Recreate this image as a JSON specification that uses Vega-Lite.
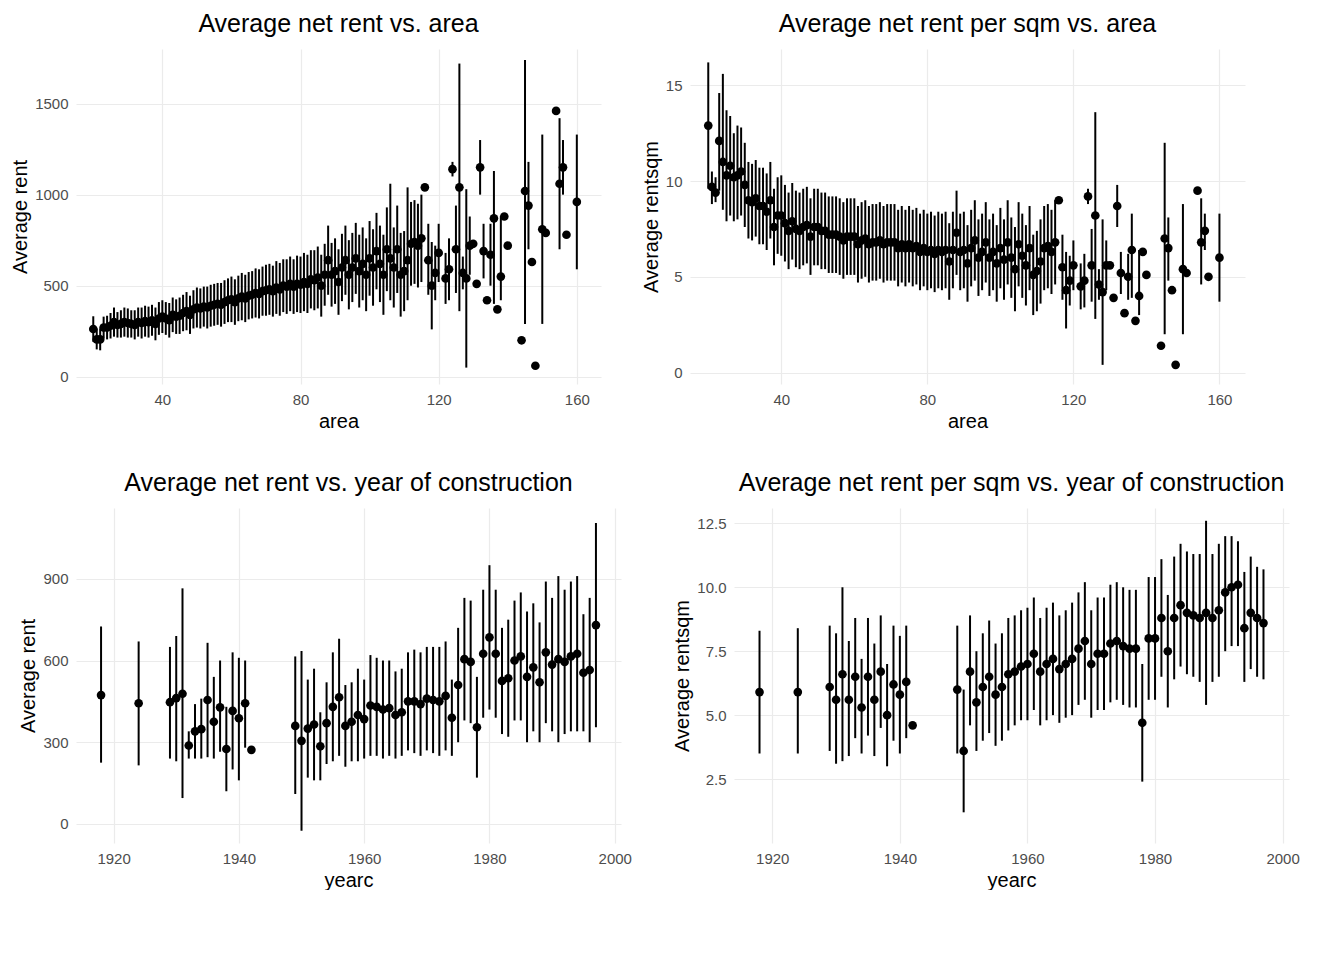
{
  "$schema": "https://vega.github.io/schema/vega-lite/v6.json",
  "background": "white",
  "padding": {"left": 10, "top": 12, "right": 0, "bottom": 0},
  "config": {
    "view": {"stroke": null},
    "font": "Liberation Sans",
    "title": {"fontSize": 25, "fontWeight": "normal", "color": "#000000", "anchor": "middle", "offset": 12},
    "axis": {"domain": false, "ticks": false, "gridColor": "#ebebeb", "gridWidth": 1.2, "labelColor": "#4d4d4d", "labelFontSize": 15, "titleFontSize": 20, "titleFontWeight": "normal", "titleColor": "#000000", "labelPadding": 8},
    "concat": {"spacing": 40}
  },
  "datasets": {
    "area": [
      {"a":20,"r":262,"rl":192,"rh":332,"q":12.9,"ql":9.6,"qh":16.2},
      {"a":21,"r":205,"rl":150,"rh":265,"q":9.7,"ql":8.8,"qh":10.5},
      {"a":22,"r":205,"rl":145,"rh":265,"q":9.4,"ql":8.9,"qh":10.2},
      {"a":23,"r":270,"rl":210,"rh":330,"q":12.1,"ql":9.5,"qh":14.6},
      {"a":24,"r":270,"rl":205,"rh":335,"q":11.0,"ql":8.5,"qh":15.6},
      {"a":25,"r":280,"rl":210,"rh":350,"q":10.3,"ql":7.9,"qh":13.7},
      {"a":26,"r":300,"rl":220,"rh":380,"q":10.8,"ql":8.2,"qh":13.4},
      {"a":27,"r":285,"rl":215,"rh":355,"q":10.2,"ql":7.9,"qh":12.5},
      {"a":28,"r":290,"rl":215,"rh":365,"q":10.3,"ql":8.0,"qh":12.9},
      {"a":29,"r":300,"rl":220,"rh":380,"q":10.5,"ql":8.2,"qh":12.8},
      {"a":30,"r":295,"rl":215,"rh":375,"q":9.8,"ql":7.6,"qh":12.0},
      {"a":31,"r":290,"rl":215,"rh":365,"q":9.0,"ql":7.0,"qh":11.0},
      {"a":32,"r":285,"rl":205,"rh":365,"q":8.9,"ql":6.9,"qh":10.9},
      {"a":33,"r":300,"rl":220,"rh":380,"q":9.1,"ql":7.1,"qh":11.1},
      {"a":34,"r":295,"rl":210,"rh":380,"q":8.7,"ql":6.7,"qh":10.7},
      {"a":35,"r":305,"rl":220,"rh":390,"q":8.7,"ql":6.7,"qh":10.7},
      {"a":36,"r":300,"rl":215,"rh":385,"q":8.4,"ql":6.4,"qh":10.4},
      {"a":37,"r":310,"rl":225,"rh":395,"q":9.0,"ql":7.0,"qh":11.0},
      {"a":38,"r":290,"rl":200,"rh":380,"q":7.6,"ql":5.6,"qh":9.6},
      {"a":39,"r":320,"rl":230,"rh":410,"q":8.2,"ql":6.2,"qh":10.2},
      {"a":40,"r":330,"rl":240,"rh":420,"q":8.2,"ql":6.1,"qh":10.3},
      {"a":41,"r":320,"rl":230,"rh":410,"q":7.8,"ql":5.8,"qh":9.8},
      {"a":42,"r":310,"rl":215,"rh":405,"q":7.4,"ql":5.4,"qh":9.4},
      {"a":43,"r":340,"rl":245,"rh":435,"q":7.9,"ql":5.9,"qh":9.9},
      {"a":44,"r":330,"rl":235,"rh":425,"q":7.5,"ql":5.5,"qh":9.5},
      {"a":45,"r":335,"rl":235,"rh":435,"q":7.4,"ql":5.4,"qh":9.4},
      {"a":46,"r":350,"rl":250,"rh":450,"q":7.6,"ql":5.6,"qh":9.6},
      {"a":47,"r":360,"rl":255,"rh":465,"q":7.7,"ql":5.7,"qh":9.7},
      {"a":48,"r":340,"rl":235,"rh":445,"q":7.1,"ql":5.1,"qh":9.1},
      {"a":49,"r":370,"rl":265,"rh":475,"q":7.6,"ql":5.6,"qh":9.6},
      {"a":50,"r":380,"rl":270,"rh":490,"q":7.6,"ql":5.6,"qh":9.6},
      {"a":51,"r":375,"rl":265,"rh":485,"q":7.4,"ql":5.4,"qh":9.4},
      {"a":52,"r":385,"rl":275,"rh":495,"q":7.4,"ql":5.4,"qh":9.4},
      {"a":53,"r":380,"rl":265,"rh":495,"q":7.2,"ql":5.2,"qh":9.2},
      {"a":54,"r":390,"rl":275,"rh":505,"q":7.2,"ql":5.2,"qh":9.2},
      {"a":55,"r":395,"rl":280,"rh":510,"q":7.2,"ql":5.2,"qh":9.2},
      {"a":56,"r":400,"rl":285,"rh":515,"q":7.1,"ql":5.1,"qh":9.1},
      {"a":57,"r":395,"rl":275,"rh":515,"q":6.9,"ql":4.9,"qh":8.9},
      {"a":58,"r":410,"rl":290,"rh":530,"q":7.1,"ql":5.1,"qh":9.1},
      {"a":59,"r":420,"rl":300,"rh":540,"q":7.1,"ql":5.1,"qh":9.1},
      {"a":60,"r":425,"rl":300,"rh":550,"q":7.1,"ql":5.1,"qh":9.1},
      {"a":61,"r":410,"rl":285,"rh":535,"q":6.7,"ql":4.7,"qh":8.7},
      {"a":62,"r":430,"rl":305,"rh":555,"q":6.9,"ql":4.9,"qh":8.9},
      {"a":63,"r":440,"rl":310,"rh":570,"q":7.0,"ql":5.0,"qh":9.0},
      {"a":64,"r":430,"rl":300,"rh":560,"q":6.7,"ql":4.7,"qh":8.7},
      {"a":65,"r":445,"rl":315,"rh":575,"q":6.8,"ql":4.8,"qh":8.8},
      {"a":66,"r":450,"rl":320,"rh":580,"q":6.8,"ql":4.8,"qh":8.8},
      {"a":67,"r":460,"rl":325,"rh":595,"q":6.9,"ql":4.9,"qh":8.9},
      {"a":68,"r":455,"rl":320,"rh":590,"q":6.7,"ql":4.7,"qh":8.7},
      {"a":69,"r":470,"rl":335,"rh":605,"q":6.8,"ql":4.8,"qh":8.8},
      {"a":70,"r":475,"rl":335,"rh":615,"q":6.8,"ql":4.8,"qh":8.8},
      {"a":71,"r":480,"rl":340,"rh":620,"q":6.8,"ql":4.8,"qh":8.8},
      {"a":72,"r":470,"rl":330,"rh":610,"q":6.5,"ql":4.5,"qh":8.5},
      {"a":73,"r":490,"rl":345,"rh":635,"q":6.7,"ql":4.7,"qh":8.7},
      {"a":74,"r":480,"rl":335,"rh":625,"q":6.5,"ql":4.5,"qh":8.5},
      {"a":75,"r":500,"rl":355,"rh":645,"q":6.7,"ql":4.7,"qh":8.7},
      {"a":76,"r":495,"rl":345,"rh":645,"q":6.5,"ql":4.5,"qh":8.5},
      {"a":77,"r":510,"rl":360,"rh":660,"q":6.6,"ql":4.6,"qh":8.6},
      {"a":78,"r":495,"rl":345,"rh":645,"q":6.3,"ql":4.3,"qh":8.3},
      {"a":79,"r":510,"rl":355,"rh":665,"q":6.5,"ql":4.5,"qh":8.5},
      {"a":80,"r":505,"rl":350,"rh":660,"q":6.3,"ql":4.3,"qh":8.3},
      {"a":81,"r":520,"rl":360,"rh":680,"q":6.4,"ql":4.4,"qh":8.4},
      {"a":82,"r":510,"rl":350,"rh":670,"q":6.2,"ql":4.2,"qh":8.2},
      {"a":83,"r":535,"rl":375,"rh":695,"q":6.4,"ql":4.4,"qh":8.4},
      {"a":84,"r":530,"rl":365,"rh":695,"q":6.3,"ql":4.3,"qh":8.3},
      {"a":85,"r":545,"rl":375,"rh":715,"q":6.4,"ql":4.4,"qh":8.4},
      {"a":86,"r":500,"rl":330,"rh":670,"q":5.8,"ql":3.8,"qh":7.8},
      {"a":87,"r":560,"rl":390,"rh":730,"q":6.4,"ql":4.4,"qh":8.4},
      {"a":88,"r":640,"rl":450,"rh":830,"q":7.3,"ql":5.1,"qh":9.5},
      {"a":89,"r":560,"rl":385,"rh":735,"q":6.3,"ql":4.3,"qh":8.3},
      {"a":90,"r":580,"rl":400,"rh":760,"q":6.4,"ql":4.4,"qh":8.4},
      {"a":91,"r":520,"rl":340,"rh":700,"q":5.7,"ql":3.7,"qh":7.7},
      {"a":92,"r":600,"rl":415,"rh":785,"q":6.5,"ql":4.5,"qh":8.5},
      {"a":93,"r":640,"rl":450,"rh":830,"q":6.9,"ql":4.8,"qh":9.0},
      {"a":94,"r":560,"rl":370,"rh":750,"q":6.0,"ql":4.0,"qh":8.0},
      {"a":95,"r":600,"rl":410,"rh":790,"q":6.3,"ql":4.3,"qh":8.3},
      {"a":96,"r":650,"rl":455,"rh":845,"q":6.8,"ql":4.7,"qh":8.9},
      {"a":97,"r":580,"rl":380,"rh":780,"q":6.0,"ql":4.0,"qh":8.0},
      {"a":98,"r":620,"rl":420,"rh":820,"q":6.3,"ql":4.3,"qh":8.3},
      {"a":99,"r":560,"rl":360,"rh":760,"q":5.7,"ql":3.7,"qh":7.7},
      {"a":100,"r":650,"rl":445,"rh":855,"q":6.5,"ql":4.4,"qh":8.6},
      {"a":101,"r":600,"rl":390,"rh":810,"q":5.9,"ql":3.8,"qh":8.0},
      {"a":102,"r":690,"rl":480,"rh":900,"q":6.8,"ql":4.6,"qh":9.0},
      {"a":103,"r":620,"rl":410,"rh":830,"q":6.0,"ql":3.9,"qh":8.1},
      {"a":104,"r":560,"rl":340,"rh":780,"q":5.4,"ql":3.2,"qh":7.6},
      {"a":105,"r":700,"rl":470,"rh":930,"q":6.7,"ql":4.5,"qh":8.9},
      {"a":106,"r":650,"rl":420,"rh":1060,"q":6.1,"ql":3.9,"qh":8.3},
      {"a":107,"r":600,"rl":380,"rh":820,"q":5.6,"ql":3.5,"qh":7.7},
      {"a":108,"r":700,"rl":460,"rh":940,"q":6.5,"ql":4.3,"qh":8.7},
      {"a":109,"r":560,"rl":330,"rh":790,"q":5.1,"ql":3.0,"qh":7.2},
      {"a":110,"r":580,"rl":360,"rh":800,"q":5.3,"ql":3.2,"qh":7.4},
      {"a":111,"r":640,"rl":420,"rh":1040,"q":5.8,"ql":3.6,"qh":8.0},
      {"a":112,"r":730,"rl":500,"rh":960,"q":6.5,"ql":4.3,"qh":8.7},
      {"a":113,"r":740,"rl":510,"rh":970,"q":6.6,"ql":4.4,"qh":8.8},
      {"a":114,"r":720,"rl":490,"rh":950,"q":6.3,"ql":4.1,"qh":8.5},
      {"a":115,"r":760,"rl":520,"rh":1000,"q":6.8,"ql":4.6,"qh":9.0},
      {"a":116,"r":1040,"rl":null,"rh":null,"q":9.0,"ql":null,"qh":null},
      {"a":117,"r":640,"rl":450,"rh":840,"q":5.5,"ql":3.8,"qh":7.2},
      {"a":118,"r":500,"rl":260,"rh":740,"q":4.3,"ql":2.3,"qh":6.3},
      {"a":119,"r":570,"rl":420,"rh":720,"q":4.8,"ql":3.5,"qh":6.1},
      {"a":120,"r":680,"rl":520,"rh":840,"q":5.6,"ql":4.3,"qh":6.9},
      {"a":122,"r":540,"rl":400,"rh":680,"q":4.5,"ql":3.3,"qh":5.7},
      {"a":123,"r":590,"rl":420,"rh":760,"q":4.8,"ql":3.4,"qh":6.2},
      {"a":124,"r":1140,"rl":1100,"rh":1180,"q":9.2,"ql":8.8,"qh":9.6},
      {"a":125,"r":700,"rl":460,"rh":940,"q":5.6,"ql":3.7,"qh":7.5},
      {"a":126,"r":1040,"rl":360,"rh":1720,"q":8.2,"ql":2.8,"qh":13.6},
      {"a":127,"r":570,"rl":480,"rh":660,"q":4.6,"ql":3.8,"qh":5.4},
      {"a":128,"r":540,"rl":50,"rh":1030,"q":4.2,"ql":0.4,"qh":8.0},
      {"a":129,"r":720,"rl":560,"rh":880,"q":5.6,"ql":4.3,"qh":6.9},
      {"a":130,"r":730,"rl":null,"rh":null,"q":5.6,"ql":null,"qh":null},
      {"a":131,"r":510,"rl":null,"rh":null,"q":3.9,"ql":null,"qh":null},
      {"a":132,"r":1150,"rl":1000,"rh":1300,"q":8.7,"ql":7.6,"qh":9.8},
      {"a":133,"r":690,"rl":540,"rh":840,"q":5.2,"ql":4.1,"qh":6.3},
      {"a":134,"r":420,"rl":null,"rh":null,"q":3.1,"ql":null,"qh":null},
      {"a":135,"r":670,"rl":500,"rh":840,"q":5.0,"ql":3.8,"qh":6.2},
      {"a":136,"r":870,"rl":400,"rh":1130,"q":6.4,"ql":3.9,"qh":8.3},
      {"a":137,"r":370,"rl":null,"rh":null,"q":2.7,"ql":null,"qh":null},
      {"a":138,"r":550,"rl":420,"rh":880,"q":4.0,"ql":3.0,"qh":6.4},
      {"a":139,"r":880,"rl":null,"rh":null,"q":6.3,"ql":null,"qh":null},
      {"a":140,"r":720,"rl":null,"rh":null,"q":5.1,"ql":null,"qh":null},
      {"a":144,"r":200,"rl":null,"rh":null,"q":1.4,"ql":null,"qh":null},
      {"a":145,"r":1020,"rl":290,"rh":1740,"q":7.0,"ql":2.0,"qh":12.0},
      {"a":146,"r":940,"rl":700,"rh":1180,"q":6.5,"ql":4.8,"qh":8.1},
      {"a":147,"r":630,"rl":null,"rh":null,"q":4.3,"ql":null,"qh":null},
      {"a":148,"r":60,"rl":null,"rh":null,"q":0.4,"ql":null,"qh":null},
      {"a":150,"r":810,"rl":290,"rh":1330,"q":5.4,"ql":2.0,"qh":8.8},
      {"a":151,"r":790,"rl":null,"rh":null,"q":5.2,"ql":null,"qh":null},
      {"a":154,"r":1460,"rl":null,"rh":null,"q":9.5,"ql":null,"qh":null},
      {"a":155,"r":1060,"rl":700,"rh":1420,"q":6.8,"ql":4.6,"qh":9.1},
      {"a":156,"r":1150,"rl":1000,"rh":1300,"q":7.4,"ql":6.4,"qh":8.3},
      {"a":157,"r":780,"rl":null,"rh":null,"q":5.0,"ql":null,"qh":null},
      {"a":160,"r":960,"rl":590,"rh":1330,"q":6.0,"ql":3.7,"qh":8.3}
    ],
    "year": [
      {"y":1918,"r":473,"rl":225,"rh":725,"q":5.9,"ql":3.5,"qh":8.3},
      {"y":1924,"r":443,"rl":215,"rh":670,"q":5.9,"ql":3.5,"qh":8.4},
      {"y":1929,"r":447,"rl":240,"rh":650,"q":6.1,"ql":3.6,"qh":8.5},
      {"y":1930,"r":462,"rl":230,"rh":690,"q":5.6,"ql":3.1,"qh":8.2},
      {"y":1931,"r":478,"rl":95,"rh":865,"q":6.6,"ql":3.2,"qh":10.0},
      {"y":1932,"r":288,"rl":240,"rh":340,"q":5.6,"ql":3.4,"qh":7.9},
      {"y":1933,"r":340,"rl":240,"rh":440,"q":6.5,"ql":4.1,"qh":8.8},
      {"y":1934,"r":348,"rl":240,"rh":460,"q":5.3,"ql":3.5,"qh":7.2},
      {"y":1935,"r":455,"rl":245,"rh":665,"q":6.5,"ql":4.2,"qh":8.8},
      {"y":1936,"r":375,"rl":240,"rh":540,"q":5.6,"ql":3.4,"qh":7.8},
      {"y":1937,"r":428,"rl":265,"rh":600,"q":6.7,"ql":4.5,"qh":8.9},
      {"y":1938,"r":275,"rl":120,"rh":430,"q":5.0,"ql":3.0,"qh":7.0},
      {"y":1939,"r":415,"rl":200,"rh":630,"q":6.2,"ql":4.0,"qh":8.5},
      {"y":1940,"r":388,"rl":160,"rh":610,"q":5.8,"ql":3.5,"qh":8.1},
      {"y":1941,"r":443,"rl":280,"rh":600,"q":6.3,"ql":4.1,"qh":8.5},
      {"y":1942,"r":272,"rl":null,"rh":null,"q":4.6,"ql":null,"qh":null},
      {"y":1949,"r":360,"rl":110,"rh":615,"q":6.0,"ql":3.5,"qh":8.5},
      {"y":1950,"r":305,"rl":-25,"rh":635,"q":3.6,"ql":1.2,"qh":6.0},
      {"y":1951,"r":350,"rl":170,"rh":530,"q":6.7,"ql":4.6,"qh":8.9},
      {"y":1952,"r":365,"rl":160,"rh":570,"q":5.5,"ql":3.6,"qh":7.5},
      {"y":1953,"r":285,"rl":160,"rh":410,"q":6.1,"ql":4.0,"qh":8.2},
      {"y":1954,"r":370,"rl":220,"rh":520,"q":6.5,"ql":4.3,"qh":8.7},
      {"y":1955,"r":430,"rl":230,"rh":630,"q":5.8,"ql":3.8,"qh":7.8},
      {"y":1956,"r":465,"rl":250,"rh":680,"q":6.1,"ql":4.0,"qh":8.2},
      {"y":1957,"r":360,"rl":210,"rh":510,"q":6.6,"ql":4.4,"qh":8.8},
      {"y":1958,"r":375,"rl":230,"rh":520,"q":6.7,"ql":4.6,"qh":8.9},
      {"y":1959,"r":400,"rl":230,"rh":570,"q":6.9,"ql":4.8,"qh":9.1},
      {"y":1960,"r":385,"rl":240,"rh":530,"q":7.0,"ql":4.8,"qh":9.2},
      {"y":1961,"r":435,"rl":250,"rh":620,"q":7.4,"ql":5.2,"qh":9.6},
      {"y":1962,"r":430,"rl":250,"rh":610,"q":6.7,"ql":4.6,"qh":8.8},
      {"y":1963,"r":420,"rl":240,"rh":600,"q":7.0,"ql":4.8,"qh":9.2},
      {"y":1964,"r":425,"rl":250,"rh":600,"q":7.2,"ql":5.0,"qh":9.4},
      {"y":1965,"r":400,"rl":240,"rh":560,"q":6.8,"ql":4.7,"qh":8.9},
      {"y":1966,"r":410,"rl":250,"rh":570,"q":7.0,"ql":4.9,"qh":9.1},
      {"y":1967,"r":450,"rl":270,"rh":630,"q":7.2,"ql":5.0,"qh":9.4},
      {"y":1968,"r":450,"rl":260,"rh":640,"q":7.6,"ql":5.4,"qh":9.8},
      {"y":1969,"r":440,"rl":250,"rh":630,"q":7.9,"ql":5.6,"qh":10.2},
      {"y":1970,"r":460,"rl":270,"rh":650,"q":7.0,"ql":4.9,"qh":9.1},
      {"y":1971,"r":455,"rl":260,"rh":650,"q":7.4,"ql":5.2,"qh":9.6},
      {"y":1972,"r":450,"rl":250,"rh":650,"q":7.4,"ql":5.2,"qh":9.6},
      {"y":1973,"r":470,"rl":270,"rh":670,"q":7.8,"ql":5.5,"qh":10.1},
      {"y":1974,"r":390,"rl":250,"rh":530,"q":7.9,"ql":5.6,"qh":10.2},
      {"y":1975,"r":510,"rl":300,"rh":720,"q":7.7,"ql":5.4,"qh":10.0},
      {"y":1976,"r":605,"rl":380,"rh":830,"q":7.6,"ql":5.3,"qh":9.9},
      {"y":1977,"r":595,"rl":370,"rh":820,"q":7.6,"ql":5.3,"qh":9.9},
      {"y":1978,"r":355,"rl":170,"rh":540,"q":4.7,"ql":2.4,"qh":7.0},
      {"y":1979,"r":625,"rl":390,"rh":860,"q":8.0,"ql":5.6,"qh":10.4},
      {"y":1980,"r":685,"rl":420,"rh":950,"q":8.0,"ql":5.6,"qh":10.4},
      {"y":1981,"r":625,"rl":390,"rh":860,"q":8.8,"ql":6.5,"qh":11.1},
      {"y":1982,"r":525,"rl":330,"rh":720,"q":7.5,"ql":5.3,"qh":9.7},
      {"y":1983,"r":535,"rl":320,"rh":750,"q":8.8,"ql":6.4,"qh":11.2},
      {"y":1984,"r":600,"rl":380,"rh":820,"q":9.3,"ql":6.9,"qh":11.7},
      {"y":1985,"r":615,"rl":380,"rh":850,"q":9.0,"ql":6.6,"qh":11.4},
      {"y":1986,"r":540,"rl":300,"rh":780,"q":8.9,"ql":6.5,"qh":11.3},
      {"y":1987,"r":575,"rl":340,"rh":810,"q":8.8,"ql":6.3,"qh":11.3},
      {"y":1988,"r":520,"rl":300,"rh":740,"q":9.0,"ql":5.4,"qh":12.6},
      {"y":1989,"r":630,"rl":370,"rh":890,"q":8.8,"ql":6.3,"qh":11.3},
      {"y":1990,"r":585,"rl":340,"rh":830,"q":9.1,"ql":6.5,"qh":11.7},
      {"y":1991,"r":605,"rl":300,"rh":910,"q":9.8,"ql":7.5,"qh":12.0},
      {"y":1992,"r":595,"rl":330,"rh":860,"q":10.0,"ql":7.7,"qh":12.0},
      {"y":1993,"r":615,"rl":340,"rh":890,"q":10.1,"ql":7.7,"qh":11.8},
      {"y":1994,"r":625,"rl":340,"rh":910,"q":8.4,"ql":6.3,"qh":10.6},
      {"y":1995,"r":555,"rl":340,"rh":770,"q":9.0,"ql":6.8,"qh":11.2},
      {"y":1996,"r":565,"rl":300,"rh":830,"q":8.8,"ql":6.5,"qh":10.8},
      {"y":1997,"r":730,"rl":355,"rh":1105,"q":8.6,"ql":6.4,"qh":10.7}
    ]
  },
  "vconcat": [
    {
      "hconcat": [
        {
          "title": "Average net rent vs. area",
          "width": 525, "height": 335,
          "data": {"name": "area"},
          "encoding": {
            "x": {"field": "a", "type": "quantitative", "title": "area", "scale": {"domain": [15, 167], "nice": false, "zero": false}, "axis": {"values": [40, 80, 120, 160]}}
          },
          "layer": [
            {"mark": {"type": "rule", "color": "black", "strokeWidth": 2}, "encoding": {"y": {"field": "rl", "type": "quantitative"}, "y2": {"field": "rh"}}},
            {"mark": {"type": "point", "filled": true, "color": "black", "opacity": 1, "size": 75}, "encoding": {"y": {"field": "r", "type": "quantitative", "title": "Average rent", "scale": {"domain": [-40, 1800], "nice": false}, "axis": {"values": [0, 500, 1000, 1500], "format": "d"}}}}
          ]
        },
        {
          "title": "Average net rent per sqm vs. area",
          "width": 555, "height": 335,
          "data": {"name": "area"},
          "encoding": {
            "x": {"field": "a", "type": "quantitative", "title": "area", "scale": {"domain": [15, 167], "nice": false, "zero": false}, "axis": {"values": [40, 80, 120, 160]}}
          },
          "layer": [
            {"mark": {"type": "rule", "color": "black", "strokeWidth": 2}, "encoding": {"y": {"field": "ql", "type": "quantitative"}, "y2": {"field": "qh"}}},
            {"mark": {"type": "point", "filled": true, "color": "black", "opacity": 1, "size": 75}, "encoding": {"y": {"field": "q", "type": "quantitative", "title": "Average rentsqm", "scale": {"domain": [-0.6, 16.9], "nice": false}, "axis": {"values": [0, 5, 10, 15]}}}}
          ]
        }
      ]
    },
    {
      "hconcat": [
        {
          "title": "Average net rent vs. year of construction",
          "width": 545, "height": 335,
          "data": {"name": "year"},
          "encoding": {
            "x": {"field": "y", "type": "quantitative", "title": "yearc", "scale": {"domain": [1914, 2001], "nice": false, "zero": false}, "axis": {"values": [1920, 1940, 1960, 1980, 2000], "format": "d"}}
          },
          "layer": [
            {"mark": {"type": "rule", "color": "black", "strokeWidth": 2}, "encoding": {"y": {"field": "rl", "type": "quantitative"}, "y2": {"field": "rh"}}},
            {"mark": {"type": "point", "filled": true, "color": "black", "opacity": 1, "size": 75}, "encoding": {"y": {"field": "r", "type": "quantitative", "title": "Average rent", "scale": {"domain": [-70, 1160], "nice": false}, "axis": {"values": [0, 300, 600, 900]}}}}
          ]
        },
        {
          "title": "Average net rent per sqm vs. year of construction",
          "width": 555, "height": 335,
          "data": {"name": "year"},
          "encoding": {
            "x": {"field": "y", "type": "quantitative", "title": "yearc", "scale": {"domain": [1914, 2001], "nice": false, "zero": false}, "axis": {"values": [1920, 1940, 1960, 1980, 2000], "format": "d"}}
          },
          "layer": [
            {"mark": {"type": "rule", "color": "black", "strokeWidth": 2}, "encoding": {"y": {"field": "ql", "type": "quantitative"}, "y2": {"field": "qh"}}},
            {"mark": {"type": "point", "filled": true, "color": "black", "opacity": 1, "size": 75}, "encoding": {"y": {"field": "q", "type": "quantitative", "title": "Average rentsqm", "scale": {"domain": [0.9, 13.1], "nice": false}, "axis": {"values": [2.5, 5, 7.5, 10, 12.5], "format": ".1f"}}}}
          ]
        }
      ]
    }
  ]
}
